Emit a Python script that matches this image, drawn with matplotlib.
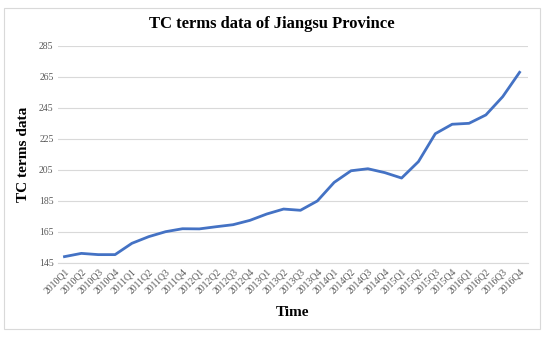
import matplotlib
matplotlib.use("Agg")
import matplotlib.pyplot as plt
from matplotlib.patches import Rectangle

# quarters 2010Q1 .. 2016Q4
years = [2010, 2011, 2012, 2013, 2014, 2015, 2016]
quarters = [f"{y}Q{q}" for y in years for q in range(1, 5)]
tc_values = [149.1, 151.2, 150.4, 150.4, 157.7, 162.0, 165.2, 167.1,
             167.0, 168.4, 169.7, 172.5, 176.6, 179.8, 179.0, 185.0,
             197.0, 204.5, 205.8, 203.3, 199.8, 210.4, 228.4, 234.5,
             235.1, 240.5, 252.3, 268.0]
y_ticks = [145, 165, 185, 205, 225, 245, 265, 285]

plt.rcParams['font.family'] = ['Liberation Serif', 'DejaVu Serif']

fig = plt.figure(figsize=(5.5, 3.37), dpi=100)
ax = fig.add_axes([0.105, 0.2196, 0.855, 0.644])

x = list(range(len(quarters)))
ax.plot(x, tc_values, color='#4472C4', linewidth=2)

ax.set_ylim(145, 285)
ax.set_yticks(y_ticks)
ax.set_xlim(-0.4, len(quarters) - 0.5)
ax.set_xticks(x)
ax.set_xticklabels(quarters, rotation=45, ha='right', rotation_mode='anchor')
ax.tick_params(axis='both', length=0, labelsize=7, colors='#595959', pad=3)
ax.grid(axis='y', color='#D9D9D9', linewidth=0.8)
ax.set_axisbelow(True)
for side in ['top', 'right', 'left']:
    ax.spines[side].set_visible(False)
ax.spines['bottom'].set_color('#D9D9D9')

# title centred on the whole chart, not the plot area
fig.text(272 / 550, 1 - 24 / 337, 'TC terms data of Jiangsu Province',
         fontsize=12, fontweight='bold', ha='center', va='center')
ax.set_xlabel('Time', fontsize=11, fontweight='bold', labelpad=7)
ax.set_ylabel('TC terms data', fontsize=11, fontweight='bold', labelpad=6)

# light frame round the chart area
fig.patches.append(Rectangle((4 / 550, 8 / 337), 536 / 550, 321 / 337,
                             transform=fig.transFigure, fill=False,
                             edgecolor='#D9D9D9', linewidth=0.8))

plt.savefig('out.png', dpi=100)
